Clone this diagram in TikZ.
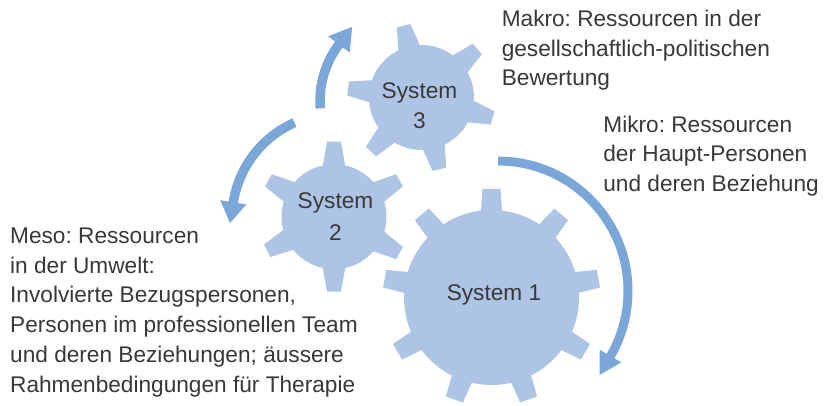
\documentclass[tikz,border=0pt]{standalone}
\usepackage{fontspec}
\setmainfont{Liberation Sans}
\usetikzlibrary{calc}
\frenchspacing

\definecolor{gearblue}{RGB}{174,196,229}
\definecolor{arrowblue}{RGB}{123,167,216}
\definecolor{inkgray}{RGB}{56,56,56}

% gear: #1 centre, #2 body radius, #3 outer radius,
%       #4 tooth half width at the body, #5 tooth half width at the tip, #6 tooth angles
\newcommand{\drawgear}[6]{%
  \fill[gearbody] (#1) circle[radius=#2];
  \foreach \ta in {#6}{%
    \fill[gearbody, shift={(#1)}, rotate=\ta]
      (#2-6,-#4) -- (#3,-#5) -- (#3,#5) -- (#2-6,#4) -- cycle;
  }%
}

% circular arrow: #1 centre, #2 radius, #3 tail angle, #4 angle where the head starts,
%   #5 turn (-90 clockwise, +90 counter-clockwise), #6 head width, #7 head length, #8 shaft width
\newcommand{\circarrow}[8]{%
  \draw[arrowshaft, line width=#8] ($(#1)+(#3:#2)$)
    arc[start angle=#3, end angle=#4#5/90, radius=#2];
  \fill[arrowblue] ($(#1)+(#4:#2+#6/2)$) -- ($(#1)+(#4:#2-#6/2)$)
    -- ($(#1)+(#4:#2)+(#4#5:#7)$) -- cycle;
}

\begin{document}
\begin{tikzpicture}[x=1pt, y=1pt,
  gearbody/.style={fill=gearblue},
  arrowshaft/.style={draw=arrowblue, line cap=butt},
  txt/.style={inner sep=0pt, text=inkgray, align=left,
    font=\fontsize{22.65}{29.7}\selectfont},
  gearlabel/.style={inner sep=0pt, text=inkgray, align=center,
    font=\fontsize{22.65}{30}\selectfont}]

\useasboundingbox (0,0) rectangle (828,406);

% gear centres
\coordinate (g1) at (491.5,108.5);
\coordinate (g2) at (334,189.3);
\coordinate (g3) at (421.5,308.5);

% centres of the rotation arrows
\coordinate (a1) at (498,115);
\coordinate (a2) at (414,305);
\coordinate (a3) at (337.3,187.2);

% gears
\drawgear{g1}{87.5}{108.5}{11}{9}{90,130,170,210,250,290,330,10,50}
\drawgear{g2}{52.5}{75}{12}{7}{90,151,207,270,331,29}
\drawgear{g3}{52.5}{74}{12}{7}{104,41,344,284,227,173}

% rotation arrows
\circarrow{a1}{130}{90}{-30}{-90}{25}{22}{9pt}
\circarrow{a2}{94}{184.5}{143}{-90}{27}{22}{9.5pt}
\circarrow{a3}{105.3}{114}{171}{+90}{26.5}{21}{9.5pt}

% gear labels
\node[gearlabel, anchor=base] (sys1) at (494,105.3) {System 1};
\node[gearlabel, anchor=north] (sys2) at (335.5,213.2) {System\\[1.7pt]2};
\node[gearlabel, anchor=north] (sys3) at (419.5,323.9) {System\\3};

% descriptions
\node[txt, anchor=north west] (makro) at (501.6,396.2)
  {Makro: Ressourcen in der\\gesellschaftlich-politischen\\Bewertung};
\node[txt, anchor=north west] (mikro) at (603.2,290.5)
  {Mikro: Ressourcen\\der Haupt-Personen\\und deren Beziehung};
\node[txt, anchor=north west] (meso) at (10,178.2)
  {Meso: Ressourcen\\in der Umwelt:\\Involvierte Bezugspersonen,\\Personen im professionellen Team\\und deren Beziehungen; äussere\\Rahmenbedingungen für Therapie};

\end{tikzpicture}
\end{document}
